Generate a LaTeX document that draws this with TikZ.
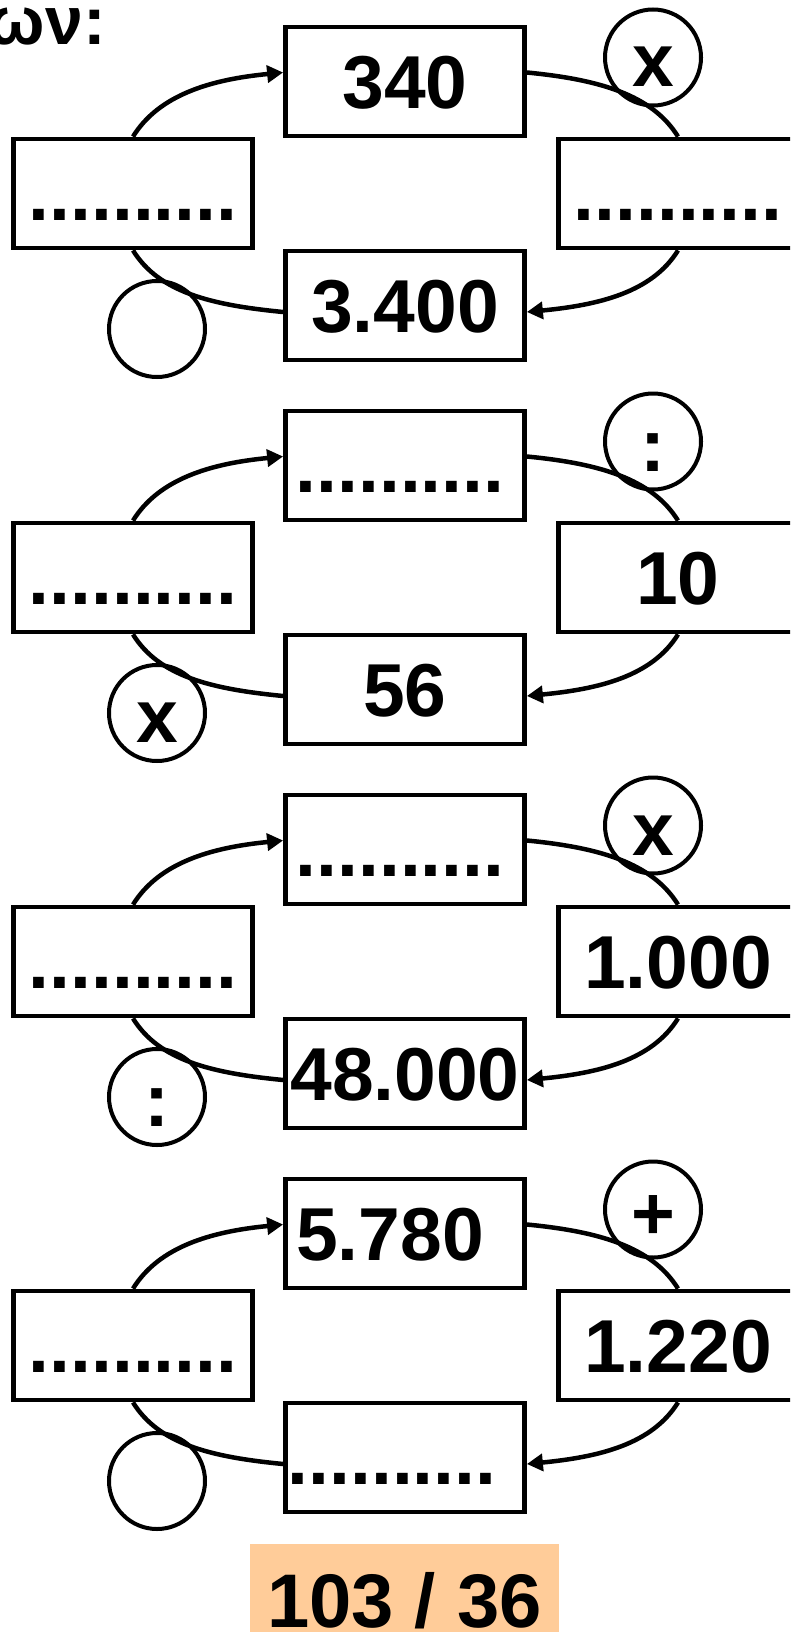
\documentclass[tikz,border=0pt]{standalone}
\usepackage{fontspec}
\setmainfont{Liberation Sans}
\usetikzlibrary{arrows.meta}
\definecolor{orangebg}{HTML}{FFCC99}
\newcommand{\bignum}{\fontsize{75pt}{75pt}\selectfont\bfseries}
\newcommand{\headfnt}{\fontsize{68pt}{68pt}\selectfont\bfseries}
\newcommand{\resfnt}{\fontsize{76pt}{76pt}\selectfont\bfseries}
\tikzset{
  numbox/.style={draw, line width=4.8pt, minimum width=239pt, minimum height=109pt,
    inner sep=0pt, font=\bignum, text height=54pt, text depth=0pt},
  opcirc/.style={draw, circle, line width=4pt, minimum size=96pt, inner sep=0pt,
    font=\bignum, text height=59pt, text depth=0pt},
  conn/.style={line width=4.5pt},
  arr/.style={conn, -{Triangle[length=16pt,width=17pt]}},
}
\newcommand{\mypanel}[8]{%
  \begin{scope}[shift={(0,#8)}]
    \node[numbox] (L#1) at (133,193.5) {#2};
    \node[numbox] (T#1) at (405,81.5) {#3};
    \node[numbox] (R#1) at (678,193.5) {#4};
    \node[numbox] (B#1) at (405,305.5) {#5};
    \node[opcirc] (CT#1) at (653,57.5) {#6};
    \node[opcirc] (CB#1) at (157,329) {#7};
    \draw[arr] (L#1.north) .. controls +(26,-42) and +(-72,7) .. ([yshift=9pt]T#1.west);
    \draw[conn] ([yshift=9pt]T#1.east) .. controls +(72,7) and +(-26,-42) .. (R#1.north);
    \draw[arr] (R#1.south) .. controls +(-26,42) and +(72,-7) .. ([yshift=-6.5pt]B#1.east);
    \draw[conn] ([yshift=-6.5pt]B#1.west) .. controls +(-72,-7) and +(26,42) .. (L#1.south);
  \end{scope}}
\begin{document}
\begin{tikzpicture}[x=1pt,y=-1pt]
  \useasboundingbox (0,0) rectangle (790,1632);
  \fill[white] (0,0) rectangle (790,1632);
  \clip (0,0) rectangle (790,1632);
  \node[anchor=base east, font=\headfnt, inner sep=0pt] (head) at (106,45) {ων:};
  \mypanel{1}{..........}{340}{..........}{3.400}{x}{}{0}
  \mypanel{2}{..........}{..........\kern10pt}{10}{56}{:}{x}{384}
  \mypanel{3}{..........}{..........\kern10pt}{1.000}{48.000}{x}{:}{768}
  \mypanel{4}{..........}{5.780\kern30pt}{1.220}{..........\kern26pt}{+}{}{1152}
  \node[fill=orangebg, minimum width=309pt, minimum height=96pt, inner sep=0pt,
    font=\resfnt, text height=70pt, text depth=0pt] (res) at (404.5,1592) {103 / 36};
\end{tikzpicture}
\end{document}
